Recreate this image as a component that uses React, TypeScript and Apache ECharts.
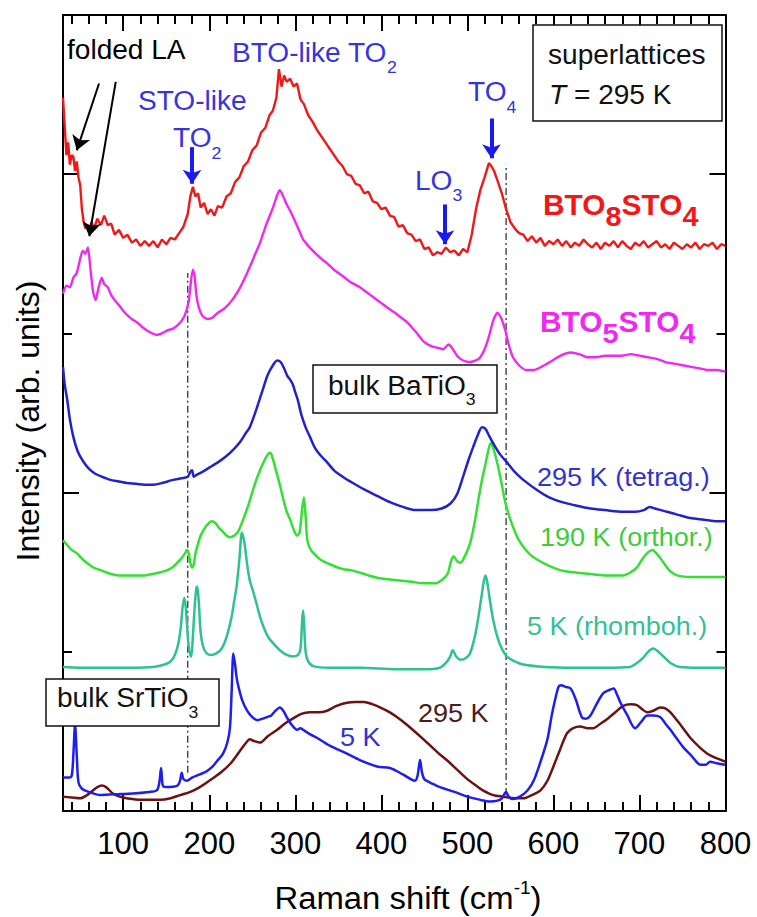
import React, { useEffect, useRef } from "react";
import * as echarts from "echarts";

const FONT = '"Liberation Sans", Arial, Helvetica, sans-serif';

const X_MIN = 30;
const X_MAX = 800;
const Y_MIN = 0;
const Y_MAX = 5;
const X_MAJOR_STEP = 100;
const X_MINOR_STEP = 20;
const Y_SHORT_STEP = 1;
const Y_LONG_STEP = 2;

// BTO8STO4 superlattice, 295 K
const bto8sto4: number[][] = [
  [30, 4.48], [32, 4.30], [34, 4.12], [36, 4.20], [38, 4.06], [40, 4.12], [42, 4.11], [44, 4.02], [46, 4.08], [48, 3.98],
  [50, 3.93], [52, 3.78], [54, 3.70], [56, 3.66], [58, 3.68], [60, 3.64], [63, 3.70], [66, 3.66], [70, 3.72], [74, 3.68],
  [78, 3.74], [82, 3.68], [86, 3.69], [90, 3.62], [95, 3.65], [100, 3.60], [105, 3.62], [110, 3.57], [115, 3.59], [120, 3.55],
  [125, 3.58], [130, 3.55], [135, 3.58], [140, 3.54], [145, 3.59], [150, 3.56], [155, 3.60], [160, 3.59], [165, 3.63], [170, 3.67],
  [175, 3.75], [178, 3.86], [181, 3.92], [184, 3.86], [187, 3.88], [190, 3.79], [194, 3.82], [198, 3.75], [202, 3.78], [206, 3.74],
  [210, 3.80], [215, 3.79], [220, 3.86], [225, 3.88], [230, 3.95], [235, 3.98], [240, 4.05], [245, 4.08], [250, 4.15], [255, 4.18],
  [260, 4.26], [265, 4.29], [270, 4.37], [274, 4.40], [278, 4.48], [281, 4.66], [284, 4.55], [287, 4.62], [290, 4.58], [294, 4.60],
  [298, 4.55], [302, 4.57], [306, 4.47], [310, 4.44], [315, 4.37], [320, 4.33], [325, 4.28], [330, 4.24], [335, 4.20], [340, 4.16],
  [345, 4.12], [350, 4.08], [355, 4.05], [360, 4.00], [365, 3.99], [370, 3.94], [375, 3.93], [380, 3.88], [385, 3.89], [390, 3.83],
  [395, 3.82], [400, 3.78], [405, 3.79], [410, 3.74], [415, 3.73], [420, 3.67], [425, 3.68], [430, 3.63], [435, 3.62], [440, 3.58],
  [445, 3.59], [450, 3.53], [455, 3.54], [460, 3.49], [465, 3.51], [470, 3.50], [475, 3.54], [480, 3.51], [485, 3.52], [490, 3.49],
  [495, 3.53], [500, 3.51], [505, 3.62], [510, 3.78], [515, 3.90], [520, 3.98], [525, 4.07], [528, 4.05], [531, 4.02], [535, 3.96],
  [540, 3.88], [545, 3.78], [550, 3.70], [555, 3.66], [560, 3.63], [565, 3.62], [570, 3.58], [575, 3.61], [580, 3.57], [585, 3.60],
  [590, 3.55], [595, 3.58], [600, 3.56], [605, 3.59], [610, 3.55], [615, 3.58], [620, 3.54], [625, 3.57], [630, 3.55], [635, 3.59],
  [640, 3.56], [645, 3.54], [650, 3.57], [655, 3.53], [660, 3.57], [665, 3.55], [670, 3.58], [675, 3.54], [680, 3.58], [685, 3.55],
  [690, 3.53], [695, 3.57], [700, 3.55], [705, 3.58], [710, 3.54], [715, 3.56], [720, 3.58], [725, 3.54], [730, 3.56], [735, 3.53],
  [740, 3.57], [745, 3.55], [750, 3.53], [755, 3.56], [760, 3.54], [765, 3.57], [770, 3.53], [775, 3.56], [780, 3.55], [785, 3.57],
  [790, 3.53], [795, 3.56], [800, 3.55],
];

// BTO5STO4 superlattice, 295 K
const bto5sto4: number[][] = [
  [30, 3.25], [34, 3.30], [38, 3.29], [42, 3.35], [46, 3.38], [50, 3.47], [53, 3.52], [56, 3.50], [59, 3.54], [62, 3.40],
  [65, 3.26], [68, 3.21], [71, 3.28], [75, 3.35], [78, 3.31], [82, 3.29], [86, 3.24], [90, 3.21], [96, 3.17], [102, 3.13],
  [110, 3.09], [116, 3.07], [122, 3.04], [130, 3.01], [139, 2.99], [145, 3.00], [152, 3.02], [158, 3.03], [163, 3.05], [168, 3.08],
  [172, 3.12], [176, 3.20], [179, 3.34], [181, 3.40], [183, 3.36], [185, 3.24], [188, 3.16], [192, 3.11], [198, 3.09], [204, 3.10],
  [210, 3.13], [216, 3.15], [222, 3.18], [228, 3.22], [235, 3.28], [244, 3.38], [252, 3.48], [259, 3.57], [266, 3.68], [274, 3.79],
  [279, 3.87], [282, 3.90], [286, 3.86], [290, 3.81], [294, 3.77], [300, 3.70], [305, 3.64], [309, 3.59], [315, 3.55], [322, 3.51],
  [330, 3.47], [337, 3.44], [345, 3.40], [355, 3.36], [365, 3.32], [375, 3.29], [385, 3.25], [395, 3.21], [405, 3.17], [418, 3.12],
  [430, 3.07], [440, 3.01], [449, 2.95], [458, 2.92], [465, 2.91], [472, 2.90], [478, 2.93], [482, 2.91], [488, 2.86], [495, 2.83],
  [503, 2.82], [510, 2.83], [515, 2.85], [520, 2.90], [525, 2.98], [530, 3.08], [535, 3.13], [539, 3.10], [544, 3.02], [548, 2.93],
  [553, 2.85], [560, 2.80], [568, 2.77], [577, 2.77], [586, 2.79], [596, 2.82], [605, 2.85], [612, 2.87], [620, 2.88], [630, 2.87],
  [640, 2.85], [650, 2.85], [660, 2.86], [670, 2.86], [680, 2.86], [690, 2.87], [700, 2.86], [710, 2.85], [720, 2.84], [730, 2.82],
  [740, 2.81], [750, 2.80], [760, 2.79], [770, 2.78], [780, 2.77], [790, 2.77], [800, 2.76],
];

// bulk BaTiO3, 295 K (tetragonal)
const bto295: number[][] = [
  [30, 2.79], [32, 2.68], [35, 2.58], [38, 2.46], [42, 2.35], [47, 2.26], [53, 2.20], [60, 2.15], [67, 2.12], [75, 2.10],
  [85, 2.08], [95, 2.07], [104, 2.06], [115, 2.055], [125, 2.05], [135, 2.05], [145, 2.06], [158, 2.08], [168, 2.09], [175, 2.10],
  [178, 2.13], [180, 2.14], [182, 2.10], [185, 2.11], [192, 2.13], [201, 2.16], [210, 2.19], [220, 2.23], [228, 2.27], [236, 2.32],
  [242, 2.37], [247, 2.41], [252, 2.48], [257, 2.56], [263, 2.66], [268, 2.74], [274, 2.80], [279, 2.83], [283, 2.82], [287, 2.78],
  [291, 2.73], [294, 2.71], [297, 2.68], [300, 2.63], [303, 2.58], [307, 2.49], [312, 2.41], [317, 2.35], [323, 2.28], [330, 2.23],
  [337, 2.19], [345, 2.14], [355, 2.10], [367, 2.06], [380, 2.02], [395, 1.98], [410, 1.94], [425, 1.91], [440, 1.89], [457, 1.89],
  [470, 1.90], [480, 1.93], [488, 1.99], [495, 2.10], [501, 2.20], [507, 2.29], [512, 2.36], [517, 2.41], [521, 2.40], [525, 2.36],
  [530, 2.31], [538, 2.24], [546, 2.19], [555, 2.13], [565, 2.08], [580, 2.02], [595, 1.97], [610, 1.94], [625, 1.92], [643, 1.90],
  [660, 1.89], [681, 1.88], [695, 1.88], [705, 1.89], [712, 1.91], [718, 1.90], [725, 1.89], [732, 1.88], [745, 1.86], [759, 1.84],
  [775, 1.83], [790, 1.82], [800, 1.82],
];

// bulk BaTiO3, 190 K (orthorhombic)
const bto190: number[][] = [
  [30, 1.70], [35, 1.67], [40, 1.64], [46, 1.62], [53, 1.58], [60, 1.55], [65, 1.53], [75, 1.51], [85, 1.49], [95, 1.48],
  [104, 1.48], [115, 1.48], [125, 1.48], [135, 1.49], [143, 1.50], [150, 1.51], [157, 1.53], [163, 1.56], [168, 1.59], [172, 1.62],
  [174, 1.64], [176, 1.62], [178, 1.56], [180, 1.53], [182, 1.55], [184, 1.62], [187, 1.68], [190, 1.73], [194, 1.77], [198, 1.80],
  [203, 1.82], [207, 1.81], [211, 1.78], [215, 1.76], [220, 1.73], [224, 1.72], [229, 1.73], [234, 1.76], [240, 1.84], [246, 1.93],
  [251, 2.02], [256, 2.10], [263, 2.19], [268, 2.24], [271, 2.25], [274, 2.21], [278, 2.13], [282, 2.05], [286, 1.96], [290, 1.88],
  [294, 1.83], [298, 1.77], [302, 1.73], [305, 1.75], [308, 1.90], [310, 1.97], [312, 1.85], [314, 1.70], [318, 1.64], [323, 1.61],
  [329, 1.58], [340, 1.55], [355, 1.52], [367, 1.51], [385, 1.48], [400, 1.46], [418, 1.45], [435, 1.44], [450, 1.43], [462, 1.43],
  [470, 1.45], [477, 1.49], [481, 1.57], [484, 1.60], [488, 1.57], [492, 1.56], [497, 1.60], [503, 1.68], [508, 1.80], [513, 1.96],
  [517, 2.08], [521, 2.18], [525, 2.28], [527, 2.31], [530, 2.28], [535, 2.18], [540, 2.05], [544, 1.94], [550, 1.83], [558, 1.72],
  [565, 1.66], [573, 1.61], [581, 1.58], [595, 1.54], [610, 1.51], [623, 1.50], [640, 1.49], [660, 1.48], [681, 1.48], [690, 1.50],
  [697, 1.53], [703, 1.58], [709, 1.62], [715, 1.64], [721, 1.61], [728, 1.56], [735, 1.51], [744, 1.48], [760, 1.47], [780, 1.47],
  [800, 1.47],
];

// bulk BaTiO3, 5 K (rhombohedral)
const bto5: number[][] = [
  [30, 0.905], [50, 0.90], [85, 0.90], [110, 0.90], [135, 0.905], [148, 0.92], [155, 0.94], [160, 0.98], [164, 1.05], [167, 1.16],
  [169, 1.28], [171, 1.34], [173, 1.26], [175, 1.10], [177, 1.00], [179, 0.97], [181, 1.10], [183, 1.28], [185, 1.40], [186, 1.41],
  [188, 1.30], [190, 1.12], [193, 1.03], [197, 0.99], [203, 0.98], [208, 0.99], [213, 1.01], [218, 1.06], [222, 1.13], [226, 1.22],
  [229, 1.32], [232, 1.42], [235, 1.58], [238, 1.75], [241, 1.68], [244, 1.55], [247, 1.45], [251, 1.38], [255, 1.30], [259, 1.22],
  [265, 1.13], [270, 1.08], [275, 1.05], [282, 1.01], [290, 0.98], [297, 0.97], [303, 0.98], [306, 1.02], [308, 1.20], [309, 1.26],
  [310, 1.20], [312, 1.00], [315, 0.94], [321, 0.91], [340, 0.90], [375, 0.90], [418, 0.89], [450, 0.89], [468, 0.90], [475, 0.93],
  [480, 0.97], [483, 1.01], [487, 0.97], [492, 0.95], [498, 0.96], [503, 0.99], [508, 1.08], [511, 1.16], [514, 1.26], [517, 1.37],
  [519, 1.44], [521, 1.48], [523, 1.44], [526, 1.33], [530, 1.20], [535, 1.09], [540, 1.02], [546, 0.97], [555, 0.94], [565, 0.92],
  [590, 0.905], [623, 0.90], [660, 0.90], [689, 0.905], [697, 0.93], [704, 0.96], [710, 1.00], [716, 1.02], [722, 1.00], [728, 0.97],
  [736, 0.93], [747, 0.905], [770, 0.90], [800, 0.90],
];

// bulk SrTiO3, 5 K
const sto5: number[][] = [
  [30, 0.21], [36, 0.21], [40, 0.22], [42, 0.35], [44, 0.54], [46, 0.35], [48, 0.18], [52, 0.14], [60, 0.12], [73, 0.10],
  [90, 0.105], [111, 0.11], [130, 0.12], [139, 0.13], [142, 0.18], [144, 0.27], [146, 0.16], [150, 0.15], [163, 0.16], [166, 0.19],
  [168, 0.24], [170, 0.20], [174, 0.19], [180, 0.21], [189, 0.23], [197, 0.25], [204, 0.28], [210, 0.32], [216, 0.36], [221, 0.43],
  [224, 0.52], [226, 0.75], [228, 0.99], [230, 0.92], [232, 0.83], [234, 0.78], [238, 0.70], [244, 0.63], [250, 0.59], [256, 0.57],
  [262, 0.58], [267, 0.59], [272, 0.60], [277, 0.63], [282, 0.65], [286, 0.63], [290, 0.59], [296, 0.54], [302, 0.51], [306, 0.52],
  [309, 0.51], [318, 0.48], [325, 0.46], [340, 0.41], [360, 0.36], [375, 0.32], [395, 0.28], [410, 0.27], [425, 0.23], [439, 0.19],
  [442, 0.22], [445, 0.32], [447, 0.25], [450, 0.20], [460, 0.17], [468, 0.15], [485, 0.12], [500, 0.09], [515, 0.07], [526, 0.06],
  [535, 0.065], [540, 0.08], [545, 0.12], [548, 0.09], [552, 0.075], [561, 0.09], [570, 0.13], [577, 0.19], [585, 0.31], [593, 0.45],
  [598, 0.60], [602, 0.70], [606, 0.78], [609, 0.79], [614, 0.78], [620, 0.77], [626, 0.70], [633, 0.59], [638, 0.58], [643, 0.60],
  [650, 0.67], [658, 0.74], [665, 0.76], [670, 0.77], [674, 0.73], [678, 0.68], [686, 0.60], [695, 0.52], [702, 0.56], [709, 0.60],
  [716, 0.60], [724, 0.59], [730, 0.55], [736, 0.51], [744, 0.45], [751, 0.40], [760, 0.35], [771, 0.29], [777, 0.29], [782, 0.31],
  [790, 0.30], [800, 0.29],
];

// bulk SrTiO3, 295 K
const sto295: number[][] = [
  [30, 0.09], [40, 0.085], [50, 0.08], [58, 0.10], [65, 0.13], [70, 0.15], [75, 0.16], [80, 0.15], [88, 0.11], [96, 0.09],
  [104, 0.08], [120, 0.07], [143, 0.07], [155, 0.08], [166, 0.10], [178, 0.12], [189, 0.15], [200, 0.19], [213, 0.24], [225, 0.30],
  [236, 0.38], [243, 0.43], [247, 0.45], [252, 0.44], [259, 0.43], [268, 0.47], [279, 0.51], [288, 0.55], [297, 0.58], [307, 0.61],
  [317, 0.62], [327, 0.62], [337, 0.63], [348, 0.66], [360, 0.68], [370, 0.685], [380, 0.685], [390, 0.67], [399, 0.65], [410, 0.62],
  [418, 0.59], [430, 0.54], [449, 0.45], [465, 0.37], [476, 0.32], [488, 0.26], [500, 0.20], [510, 0.16], [518, 0.13], [530, 0.10],
  [542, 0.09], [555, 0.08], [565, 0.08], [575, 0.10], [585, 0.13], [593, 0.19], [600, 0.28], [608, 0.39], [616, 0.49], [623, 0.52],
  [631, 0.53], [640, 0.52], [646, 0.52], [655, 0.55], [663, 0.58], [672, 0.62], [681, 0.66], [690, 0.67], [697, 0.665], [703, 0.64],
  [709, 0.62], [716, 0.63], [724, 0.65], [730, 0.645], [736, 0.62], [745, 0.56], [752, 0.51], [759, 0.46], [770, 0.40], [779, 0.36],
  [790, 0.33], [800, 0.31],
];

// dash-dot guide lines
const guide1: number[][] = [[175, 0.24], [175, 3.38]];
const guide2: number[][] = [[545, 0.10], [545, 4.06]];

// annotation arrows [[x1, y1], [x2, y2]]
const blueArrows: number[][][] = [
  [[180, 4.17], [180, 3.94]],
  [[474, 3.81], [474, 3.56]],
  [[528, 4.35], [528, 4.10]],
];
const blackArrows: number[][][] = [
  [[71.9, 4.57], [46.0, 4.15]],
  [[91.3, 4.58], [60.6, 3.61]],
];

let measureCtx: CanvasRenderingContext2D | null = null;
function measure(t: string, font: string): number {
  if (!measureCtx) measureCtx = document.createElement("canvas").getContext("2d");
  if (!measureCtx) return t.length * 14;
  measureCtx.font = font;
  return measureCtx.measureText(t).width;
}

type Part = { t: string; s: number; dy?: number; b?: boolean; i?: boolean };
function label(parts: Part[], x: number, y: number, color: string, align: string = "left", sx: number = 1.04): any {
  let cx = 0;
  const children: any[] = [];
  for (const p of parts) {
    const weight = p.b ? "bold" : "normal";
    const fstyle = p.i ? "italic" : "normal";
    const font = `${fstyle} ${weight} ${p.s}px ${FONT}`;
    children.push({
      type: "text",
      x: cx,
      y: p.dy || 0,
      z: 100,
      style: {
        text: p.t,
        fill: color,
        fontSize: p.s,
        fontFamily: FONT,
        fontWeight: weight,
        fontStyle: fstyle,
        align: "left",
        verticalAlign: "middle",
      },
    });
    cx += measure(p.t, font);
  }
  const W = cx * sx;
  const gx = align === "center" ? x - W / 2 : align === "right" ? x - W : x;
  return { type: "group", x: gx, y, scaleX: sx, z: 100, children };
}

function box(x: number, y: number, w: number, h: number): any {
  return {
    type: "rect",
    z: 99,
    shape: { x, y, width: w, height: h },
    style: { fill: "#ffffff", stroke: "#111", lineWidth: 1.5 },
  };
}

function mkX(position: string, showLabels: boolean, step: number, len: number, showLine: boolean): any {
  return {
    type: "value",
    position,
    min: X_MIN,
    max: X_MAX,
    splitNumber: Math.round((X_MAX - X_MIN) / step),
    minInterval: step,
    maxInterval: step,
    axisLine: { show: showLine, onZero: false, lineStyle: { color: "#000", width: 2 } },
    axisTick: { show: true, inside: true, length: len, lineStyle: { color: "#000", width: 2 } },
    axisLabel: {
      show: showLabels,
      showMinLabel: false,
      margin: 17,
      fontSize: 31,
      fontFamily: FONT,
      color: "#000",
    },
    splitLine: { show: false },
  };
}

function mkY(position: string, step: number, len: number, showLine: boolean): any {
  return {
    type: "value",
    position,
    min: Y_MIN,
    max: Y_MAX,
    interval: step,
    axisLine: { show: showLine, onZero: false, lineStyle: { color: "#000", width: 2 } },
    axisTick: { show: true, inside: true, length: len, lineStyle: { color: "#000", width: 2 } },
    axisLabel: { show: false },
    splitLine: { show: false },
  };
}

function curve(name: string, data: number[][], color: string, width: number, smooth: number | boolean): any {
  return {
    type: "line",
    name,
    data,
    showSymbol: false,
    symbol: "none",
    smooth,
    silent: true,
    lineStyle: { color, width },
    itemStyle: { color },
    z: 3,
  };
}

export default function App() {
  const ref = useRef<HTMLDivElement>(null);
  useEffect(() => {
    if (!ref.current) return;
    const chart = echarts.init(ref.current, undefined, { renderer: "svg" });
    const blueTxt = "#3434e0";
    const option: any = {
      animation: false,
      grid: { left: 63, top: 15, width: 662.5, height: 796 },
      xAxis: [
        mkX("bottom", true, X_MAJOR_STEP, 16, true),
        mkX("bottom", false, X_MINOR_STEP, 9, false),
        mkX("top", false, X_MAJOR_STEP, 16, true),
        mkX("top", false, X_MINOR_STEP, 9, false),
      ],
      yAxis: [
        mkY("left", Y_SHORT_STEP, 9, true),
        mkY("left", Y_LONG_STEP, 16, false),
        mkY("right", Y_SHORT_STEP, 9, true),
        mkY("right", Y_LONG_STEP, 16, false),
      ],
      series: [
        {
          type: "line",
          data: guide1,
          showSymbol: false,
          symbol: "none",
          silent: true,
          lineStyle: { color: "#222", width: 1.2, type: [7, 3, 2, 3] },
          z: 2,
        },
        {
          type: "line",
          data: guide2,
          showSymbol: false,
          symbol: "none",
          silent: true,
          lineStyle: { color: "#222", width: 1.2, type: [7, 3, 2, 3] },
          z: 2,
        },
        curve("bulk SrTiO3 295 K", sto295, "#6b1212", 2.5, 0.3),
        curve("bulk SrTiO3 5 K", sto5, "#1e1eee", 2.5, 0.3),
        curve("bulk BaTiO3 5 K (rhomboh.)", bto5, "#2ec28e", 2.5, 0.3),
        curve("bulk BaTiO3 190 K (orthor.)", bto190, "#33e033", 2.5, 0.3),
        curve("bulk BaTiO3 295 K (tetrag.)", bto295, "#2222cc", 2.5, 0.3),
        curve("BTO5STO4", bto5sto4, "#f028f0", 2.4, 0.2),
        curve("BTO8STO4", bto8sto4, "#f01818", 2.4, false),
        {
          type: "lines",
          coordinateSystem: "cartesian2d",
          silent: true,
          symbol: ["none", "arrow"],
          symbolSize: [12, 14],
          lineStyle: { color: "#1a1af0", width: 4, opacity: 1, curveness: 0 },
          data: blueArrows.map((c) => ({ coords: c })),
          z: 5,
        },
        {
          type: "lines",
          coordinateSystem: "cartesian2d",
          silent: true,
          symbol: ["none", "arrow"],
          symbolSize: [11, 14],
          lineStyle: { color: "#000", width: 2, opacity: 1, curveness: 0 },
          data: blackArrows.map((c) => ({ coords: c })),
          z: 5,
        },
      ],
      graphic: {
        elements: [
          label([{ t: "Raman shift (cm", s: 31 }, { t: "-1", s: 18, dy: -10 }, { t: ")", s: 31 }], 408, 898, "#000", "center", 1.06),
          {
            type: "text",
            x: 28,
            y: 421,
            rotation: Math.PI / 2,
            z: 100,
            style: {
              text: "Intensity (arb. units)",
              fill: "#000",
              fontSize: 32,
              fontFamily: FONT,
              align: "center",
              verticalAlign: "middle",
            },
          },
          label([{ t: "folded LA", s: 27 }], 67, 50, "#000"),
          label([{ t: "BTO-like TO", s: 27 }, { t: "2", s: 17, dy: 14 }], 232, 53, blueTxt),
          label([{ t: "STO-like", s: 27 }], 138, 101, blueTxt),
          label([{ t: "TO", s: 27 }, { t: "2", s: 17, dy: 15 }], 173, 138, blueTxt),
          label([{ t: "TO", s: 27 }, { t: "4", s: 17, dy: 15 }], 468, 92, blueTxt),
          label([{ t: "LO", s: 27 }, { t: "3", s: 17, dy: 14 }], 415, 181, blueTxt),
          box(533, 25, 189, 96),
          label([{ t: "superlattices", s: 27 }], 548, 55, "#111"),
          label([{ t: "T", s: 27, i: true }, { t: " = 295 K", s: 27 }], 549, 95, "#111"),
          label([{ t: "BTO", s: 29, b: true }, { t: "8", s: 28, b: true, dy: 11 }, { t: "STO", s: 29, b: true }, { t: "4", s: 28, b: true, dy: 11 }], 543, 205, "#f01818", "left", 1.03),
          label([{ t: "BTO", s: 29, b: true }, { t: "5", s: 28, b: true, dy: 11 }, { t: "STO", s: 29, b: true }, { t: "4", s: 28, b: true, dy: 11 }], 540, 322, "#f028f0", "left", 1.03),
          box(313, 365, 184, 48),
          label([{ t: "bulk BaTiO", s: 27 }, { t: "3", s: 17, dy: 13 }], 328, 386, "#111"),
          label([{ t: "295 K (tetrag.)", s: 26 }], 537, 477, "#3434c8"),
          label([{ t: "190 K (orthor.)", s: 26 }], 540, 537, "#3ccc3c"),
          label([{ t: "5 K (rhomboh.)", s: 26 }], 527, 626, "#36bf92"),
          box(46, 679, 173, 47),
          label([{ t: "bulk SrTiO", s: 27 }, { t: "3", s: 17, dy: 14 }], 57, 698, "#111"),
          label([{ t: "5 K", s: 26 }], 340, 737, "#3030d8"),
          label([{ t: "295 K", s: 26 }], 418, 713, "#4a1c1c"),
        ],
      },
    };
    chart.setOption(option);
    return () => chart.dispose();
  }, []);
  return (
    <div
      ref={ref}
      style={{ position: "absolute", left: 0, top: 0, width: 757, height: 917, background: "#fff" }}
    />
  );
}
